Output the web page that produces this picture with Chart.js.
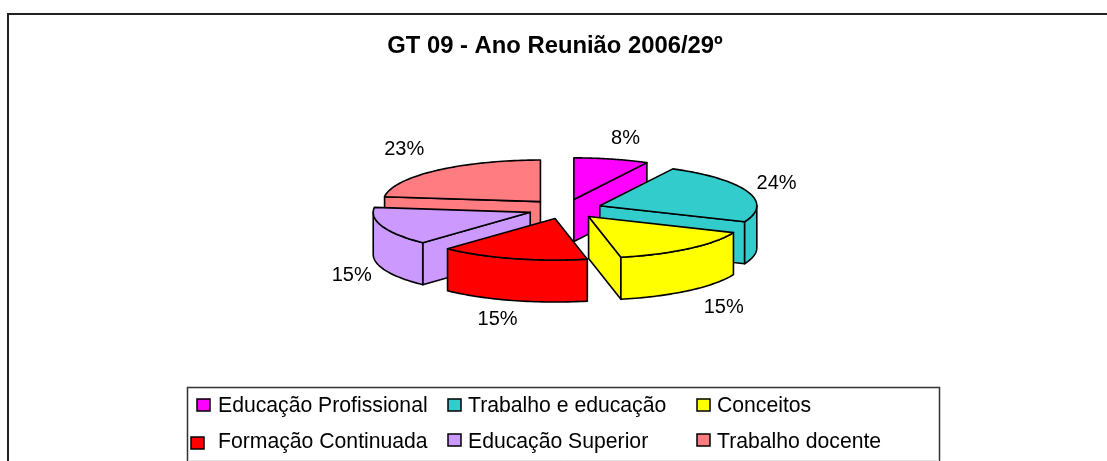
<!DOCTYPE html>
<html><head><meta charset="utf-8">
<style>html,body{margin:0;padding:0;background:#fff}#w{position:relative;width:1107px;height:461px}</style>
<script src="https://cdn.jsdelivr.net/npm/chart.js@4"></script></head>
<body><div id="w"><canvas id="c" width="1107" height="461"></canvas></div>
<script>
const categories = ["Educação Profissional","Trabalho e educação","Conceitos","Formação Continuada","Educação Superior","Trabalho docente"];
const values = [7.7,23.6,15.4,15.3,14.9,23.1];
const colors = ["#FF00FF","#33CCCC","#FFFF00","#FF0000","#CC99FF","#FF7C80"];
const titleText = "GT 09 - Ano Reunião 2006/29º";

const FONT = '"Liberation Sans", Arial, sans-serif';
const TILT = 0.265, DEPTH = 42;
const labelShift = [[14,-21],[29,-8],[35,59],[-15,61],[-31,49],[-32,-21]];
const drawOrder = [5,0,1,4,2,3];
const legendCells = [[197,399,218,412],[448,399,468,412],[697,399,717,412],[191,437,218,448],[448,434,468,448],[697,434,717,448]];

function proj(a, r, ox, oy, cx, cy){
  return [cx + ox + r*Math.cos(a), cy + TILT*(oy + r*Math.sin(a))];
}
const plugin3d = {
  id:'pie3d',
  beforeDatasetDraw(chart){
    const ctx = chart.ctx, arcs = chart.getDatasetMeta(0).data;
    ctx.save();
    ctx.lineJoin='round'; ctx.strokeStyle='#000'; ctx.lineWidth=1.6;
    const top = -Math.PI/2;
    drawOrder.forEach(i=>{
      const e = arcs[i], cx=e.x, cy=e.y, R=e.outerRadius, s=e.startAngle, t=e.endAngle, m=(s+t)/2, off=e.options.offset;
      const ox=off*Math.cos(m), oy=off*Math.sin(m);
      const P=(a,r)=>proj(a,r,ox,oy,cx,cy);
      const C=P(0,0);
      ctx.fillStyle=e.options.backgroundColor;
      const radial=(a)=>{const p=P(a,R);ctx.beginPath();ctx.moveTo(C[0],C[1]);ctx.lineTo(p[0],p[1]);ctx.lineTo(p[0],p[1]+DEPTH);ctx.lineTo(C[0],C[1]+DEPTH);ctx.closePath();ctx.fill();ctx.stroke();};
      const th=a=>a-top;
      if(Math.sin(th(t))>0.02) radial(t);
      if(Math.sin(th(s))<-0.02) radial(s);
      const a0=Math.max(s,top+Math.PI/2), a1=Math.min(t,top+3*Math.PI/2);
      if(a1>a0){
        ctx.beginPath();
        const n=40;
        for(let k=0;k<=n;k++){const p=P(a0+(a1-a0)*k/n,R); k?ctx.lineTo(p[0],p[1]):ctx.moveTo(p[0],p[1]);}
        for(let k=n;k>=0;k--){const p=P(a0+(a1-a0)*k/n,R); ctx.lineTo(p[0],p[1]+DEPTH);}
        ctx.closePath();ctx.fill();ctx.stroke();
      }
      ctx.beginPath();ctx.moveTo(C[0],C[1]);
      const n=60;
      for(let k=0;k<=n;k++){const p=P(s+(t-s)*k/n,R);ctx.lineTo(p[0],p[1]);}
      ctx.closePath();ctx.fill();ctx.stroke();
    });
    const total=values.reduce((a,b)=>a+b,0);
    ctx.fillStyle='#000';ctx.font='20px '+FONT;ctx.textAlign='center';ctx.textBaseline='middle';
    arcs.forEach((e,i)=>{
      const m=(e.startAngle+e.endAngle)/2,off=e.options.offset;
      const p=proj(m,e.outerRadius+off,0,0,e.x,e.y);
      ctx.fillText(Math.round(values[i]/total*100)+'%',p[0]+labelShift[i][0],p[1]+labelShift[i][1]);
    });
    ctx.restore();
    return false;
  },
  afterDraw(chart){
    const ctx=chart.ctx;
    ctx.save();
    ctx.strokeStyle='#222';ctx.lineWidth=2;
    ctx.beginPath();ctx.moveTo(8,461);ctx.lineTo(8,14);ctx.lineTo(1107,14);ctx.stroke();
    ctx.fillStyle='#000';ctx.font='bold 23.8px '+FONT;ctx.textAlign='center';ctx.textBaseline='middle';
    ctx.fillText(titleText,555,46);
    ctx.strokeStyle='#333';ctx.lineWidth=1.5;
    ctx.beginPath();ctx.moveTo(187.5,461);ctx.lineTo(187.5,387.5);ctx.lineTo(939.5,387.5);ctx.lineTo(939.5,461);ctx.stroke();
    ctx.strokeStyle='#e4e4e4';ctx.lineWidth=1;
    ctx.beginPath();ctx.moveTo(188,460.5);ctx.lineTo(939,460.5);ctx.stroke();
    ctx.textAlign='left';ctx.textBaseline='alphabetic';
    ctx.font='21.2px '+FONT;
    categories.forEach((l,i)=>{
      const g=legendCells[i];
      ctx.fillStyle=colors[i];ctx.strokeStyle='#000';ctx.lineWidth=1.5;
      ctx.fillRect(g[0],g[1],13,12);ctx.strokeRect(g[0],g[1],13,12);
      ctx.fillStyle='#000';ctx.fillText(l,g[2],g[3]);
    });
    ctx.restore();
  }
};
new Chart(document.getElementById('c'),{
  type:'pie',
  data:{labels:categories,datasets:[{data:values,backgroundColor:colors,borderColor:'#000',borderWidth:1,offset:37,hoverOffset:0}]},
  options:{
    responsive:false,animation:false,
    layout:{padding:{top:33,bottom:76,left:265,right:242}},
    plugins:{legend:{display:false},title:{display:false},tooltip:{enabled:false}},
    events:[]
  },
  plugins:[plugin3d]
});
</script></body></html>
